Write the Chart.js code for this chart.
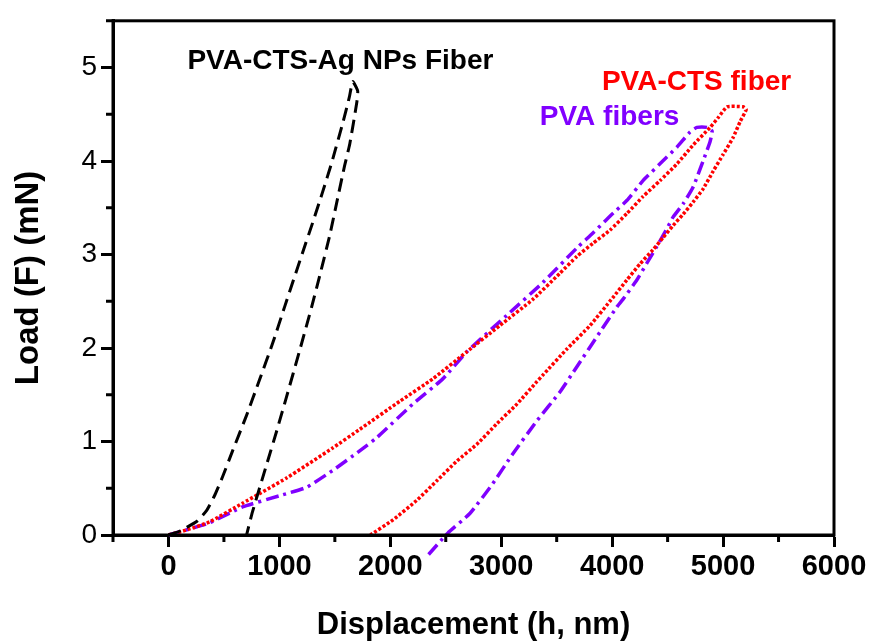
<!DOCTYPE html>
<html>
<head>
<meta charset="utf-8">
<script src="https://cdn.jsdelivr.net/npm/chart.js@4.4.1/dist/chart.umd.min.js"></script>
<style>
  body { margin: 0; background: #fff; }
  #wrap { width: 873px; height: 641px; }
</style>
</head>
<body>
<div id="wrap"><canvas id="loadChart"></canvas></div>
<script>
// load-displacement curves (nm, mN)
var agX = [0, 100, 260, 343, 415, 487, 578, 704, 821, 939, 1047, 1209, 1300, 1390, 1471, 1570, 1630, 1661, 1706,
           1697, 1634, 1588, 1516, 1453, 1363, 1291, 1182, 1065, 975, 884, 758, 704];
var agY = [0, 0.04, 0.15, 0.26, 0.42, 0.62, 0.90, 1.28, 1.66, 2.05, 2.44, 3.02, 3.34, 3.67, 3.98, 4.40, 4.68, 4.85, 4.75,
           4.62, 4.18, 3.95, 3.55, 3.20, 2.77, 2.44, 1.97, 1.48, 1.11, 0.75, 0.25, 0];

var ctsX = [0, 180, 370, 668, 1065, 1480, 1724, 2085, 2383, 2690, 2987, 3285, 3529, 3682, 3827, 3980, 4134, 4278,
            4431, 4585, 4729, 4883, 4960, 5036, 5181, 5208,
            5153, 5090, 5000, 4910, 4819, 4729, 4639, 4549, 4458, 4368, 4251, 4134, 4007, 3800, 3592, 3375, 3321,
            3141, 2960, 2780, 2599, 2419, 2238, 2022, 1820];
var ctsY = [0, 0.06, 0.14, 0.34, 0.61, 0.93, 1.13, 1.43, 1.67, 1.96, 2.24, 2.52, 2.80, 2.98, 3.12, 3.26, 3.44, 3.62,
            3.79, 3.97, 4.17, 4.36, 4.47, 4.58, 4.58, 4.55,
            4.42, 4.25, 4.07, 3.89, 3.70, 3.56, 3.43, 3.31, 3.18, 3.05, 2.90, 2.73, 2.54, 2.24, 1.99, 1.71, 1.64,
            1.40, 1.19, 0.97, 0.79, 0.58, 0.37, 0.16, 0];

var pvaX = [0, 370, 668, 1002, 1245, 1480, 1724, 1877, 2202, 2473, 2690, 3078, 3375, 3682, 3827, 3980, 4134, 4278,
            4431, 4585, 4702, 4765, 4856, 4901,
            4883, 4820, 4729, 4639, 4549, 4495, 4404, 4314, 4224, 4097, 4043, 3890, 3682, 3529, 3321, 3105, 2924,
            2717, 2518, 2329];
var pvaY = [0, 0.13, 0.30, 0.42, 0.51, 0.69, 0.90, 1.04, 1.40, 1.67, 1.96, 2.38, 2.70, 3.07, 3.23, 3.41, 3.58, 3.79,
            3.97, 4.15, 4.31, 4.36, 4.36, 4.32,
            4.21, 4.00, 3.72, 3.54, 3.40, 3.28, 3.09, 2.91, 2.73, 2.52, 2.44, 2.17, 1.80, 1.53, 1.22, 0.87, 0.55,
            0.23, 0.02, -0.23];

var xTicks = [0, 1000, 2000, 3000, 4000, 5000, 6000];
var yTicks = [0, 1, 2, 3, 4, 5];

var labels = [
  { text: 'PVA-CTS-Ag NPs Fiber', x: 171, y: 5.07, color: '#000000' },
  { text: 'PVA-CTS fiber', x: 3908, y: 4.84, color: '#ff0000' },
  { text: 'PVA fibers', x: 3348, y: 4.47, color: '#8000ff' }
];

function toPoints(xs, ys) {
  var pts = [];
  for (var i = 0; i < xs.length; i++) {
    pts.push({ x: xs[i], y: ys[i] });
  }
  return pts;
}

Chart.defaults.font.family = '"Liberation Sans", Arial, sans-serif';
Chart.defaults.color = '#000';

// box + minor ticks
var framePlugin = {
  id: 'frame',
  afterDraw: function (chart) {
    var ctx = chart.ctx, a = chart.chartArea;
    var xs = chart.scales.x, ys = chart.scales.y;
    ctx.save();
    ctx.strokeStyle = '#000';
    ctx.lineWidth = 3;
    ctx.strokeRect(a.left, a.top, a.right - a.left, a.bottom - a.top);
    ctx.beginPath();
    for (var v = -500; v <= 5500; v += 1000) {
      var px = xs.getPixelForValue(v);
      ctx.moveTo(px, a.bottom);
      ctx.lineTo(px, a.bottom + 7);
    }
    for (var w = 0.5; w <= 5.5; w += 1) {
      var py = ys.getPixelForValue(w);
      ctx.moveTo(a.left, py);
      ctx.lineTo(a.left - 7, py);
    }
    ctx.stroke();
    ctx.restore();
  }
};

var textPlugin = {
  id: 'curveLabels',
  afterDatasetsDraw: function (chart) {
    var ctx = chart.ctx;
    ctx.save();
    ctx.font = 'bold 28px "Liberation Sans", Arial, sans-serif';
    ctx.textAlign = 'left';
    ctx.textBaseline = 'middle';
    labels.forEach(function (l) {
      ctx.fillStyle = l.color;
      ctx.fillText(l.text, chart.scales.x.getPixelForValue(l.x), chart.scales.y.getPixelForValue(l.y));
    });
    ctx.restore();
  }
};

var ctx = document.getElementById('loadChart').getContext('2d');
var chart = new Chart(ctx, {
  type: 'scatter',
  data: {
    datasets: [{
      label: 'PVA-CTS-Ag NPs Fiber',
      data: toPoints(agX, agY),
      showLine: true,
      borderColor: '#000000',
      borderWidth: 3,
      borderDash: [13, 7],
      pointRadius: 0,
      tension: 0.15,
      order: 1
    }, {
      label: 'PVA-CTS fiber',
      data: toPoints(ctsX, ctsY),
      showLine: true,
      borderColor: '#ff0000',
      borderWidth: 3.5,
      borderDash: [3, 2],
      pointRadius: 0,
      tension: 0.15,
      order: 2
    }, {
      label: 'PVA fibers',
      data: toPoints(pvaX, pvaY),
      showLine: true,
      borderColor: '#8000ff',
      borderWidth: 3.5,
      borderDash: [13, 5, 3, 5],
      pointRadius: 0,
      tension: 0.15,
      clip: false,
      order: 3
    }]
  },
  options: {
    responsive: true,
    maintainAspectRatio: false,
    animation: false,
    layout: { padding: { top: 14, right: 39, left: 0, bottom: 0 } },
    plugins: {
      legend: { display: false },
      tooltip: { enabled: false }
    },
    scales: {
      x: {
        type: 'linear',
        min: -500,
        max: 6000,
        afterFit: function (s) { s.height = 106; },
        afterBuildTicks: function (s) {
          s.ticks = xTicks.map(function (v) { return { value: v }; });
        },
        grid: { drawOnChartArea: false, tickLength: 12, tickWidth: 3, tickColor: '#000' },
        border: { color: '#000', width: 3 },
        ticks: {
          padding: 3,
          maxRotation: 0,
          font: { size: 29, weight: 'bold' },
          color: '#000',
          callback: function (v) { return String(v); }
        },
        title: {
          display: true,
          text: 'Displacement (h, nm)',
          font: { size: 31, weight: 'bold', lineHeight: 1 },
          padding: 0,
          color: '#000'
        }
      },
      y: {
        type: 'linear',
        min: 0,
        max: 5.5,
        afterFit: function (s) { s.width = 113; },
        afterBuildTicks: function (s) {
          s.ticks = yTicks.map(function (v) { return { value: v }; });
        },
        grid: { drawOnChartArea: false, tickLength: 12, tickWidth: 3, tickColor: '#000' },
        border: { color: '#000', width: 3 },
        ticks: {
          padding: 4,
          font: { size: 28 },
          color: '#000'
        },
        title: {
          display: true,
          text: 'Load (F) (mN)',
          font: { size: 33, weight: 'bold', lineHeight: 1 },
          padding: { top: 12, bottom: 0 },
          color: '#000'
        }
      }
    }
  },
  plugins: [framePlugin, textPlugin]
});
</script>
</body>
</html>
